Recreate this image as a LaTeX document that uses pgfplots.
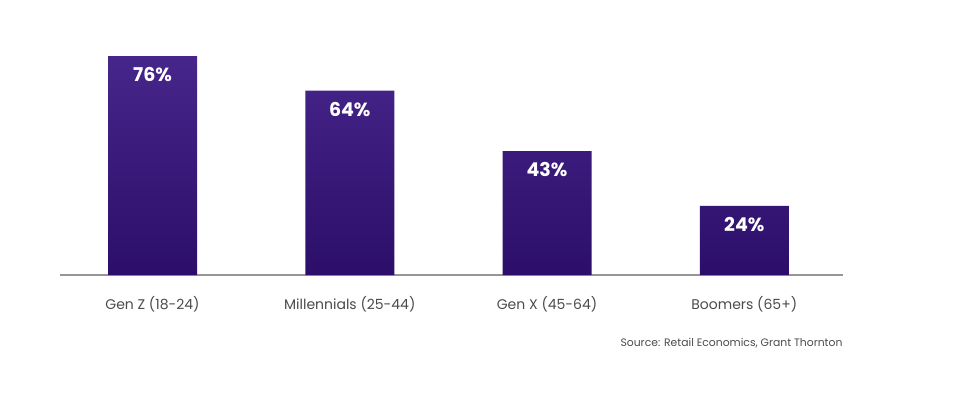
\documentclass[border=0pt]{standalone}
\usepackage{pgfplots}
\pgfplotsset{compat=1.18}
\usepackage{fontspec}
\setmainfont{Poppins}
\definecolor{bartop}{RGB}{70,38,138}
\definecolor{barbot}{RGB}{44,14,106}
\definecolor{axgray}{RGB}{150,150,150}
\definecolor{labgray}{RGB}{75,75,75}
\begin{document}
\begin{tikzpicture}
\path[use as bounding box] (0pt,0pt) rectangle (489pt,196.5pt);
\begin{axis}[
  at={(76.25pt,59pt)}, anchor=origin,
  scale only axis,
  width=391.5pt, height=144pt,
  xmin=-0.4695, xmax=3.5,
  ymin=0, ymax=100,
  axis x line*=bottom,
  axis y line=none,
  x axis line style={draw=axgray, line width=1pt, -},
  xtick=data,
  xticklabels={Gen Z (18-24), Millennials (25-44), Gen X (45-64), Boomers (65+)},
  xtick style={draw=none},
  xticklabel style={font=\fontsize{7}{8.5}\selectfont, text=labgray, yshift=-3pt},
  ybar, bar width=44.5pt,
  /pgf/number format/assume math mode=true,
  nodes near coords={\pgfmathprintnumber{\pgfplotspointmeta}\%},
  every node near coord/.append style={anchor=north, yshift=-5.5pt, inner sep=0pt, text=white, font=\fontsize{9.5}{11}\selectfont\bfseries},
  clip=false,
]
\addplot[draw=none, top color=bartop, bottom color=barbot] coordinates {(0,76) (1,64) (2,43) (3,24)};
\node[anchor=east, inner sep=0pt, font=\fontsize{5.4}{6.5}\selectfont, text=labgray] at ([yshift=-34pt]rel axis cs:1,0) {Source: Retail Economics, Grant Thornton};
\end{axis}
\end{tikzpicture}
\end{document}
